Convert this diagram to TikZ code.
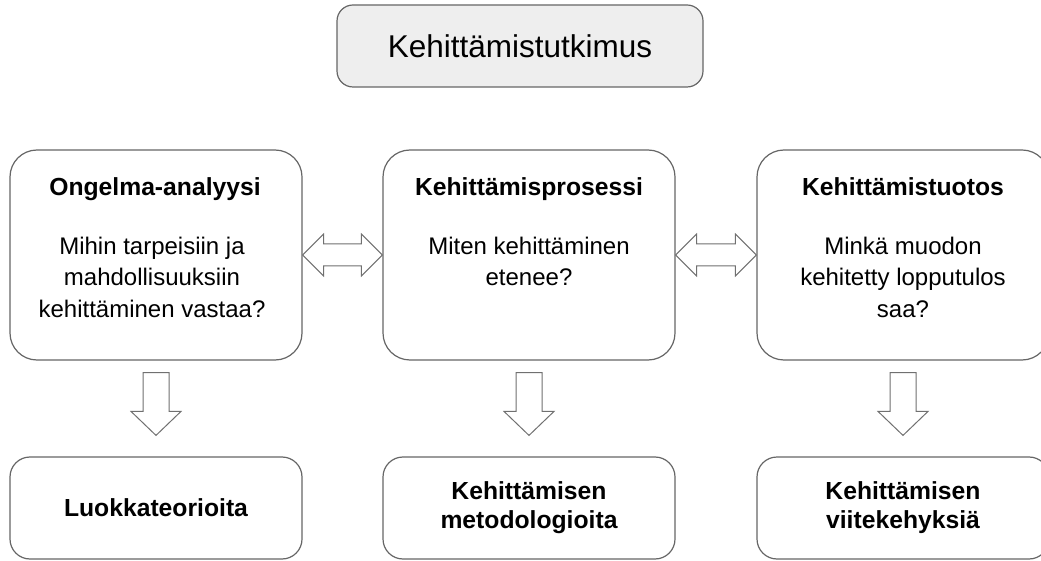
\documentclass[tikz,border=0pt]{standalone}
\usepackage{fontspec}
\setmainfont{Liberation Sans}
\usetikzlibrary{calc}
\definecolor{edge}{HTML}{666666}
\definecolor{arrowedge}{HTML}{707070}
\definecolor{headfill}{HTML}{EEEEEE}
\tikzset{
  topbox/.style={draw=edge, line width=1.2pt, fill=headfill, rounded corners=16pt,
    minimum width=366pt, minimum height=82pt, inner sep=0pt,
    font=\fontsize{31.5}{36}\selectfont},
  rowbox/.style={draw=edge, line width=1.2pt, rounded corners=27pt,
    minimum width=292pt, minimum height=210pt, inner sep=0pt},
  outbox/.style={draw=edge, line width=1.2pt, rounded corners=20pt,
    minimum width=292pt, minimum height=102pt, inner sep=0pt, align=center,
    font=\fontsize{24.7}{29}\selectfont\bfseries},
  boxtitle/.style={anchor=base, inner sep=0pt, font=\fontsize{24.7}{29}\selectfont\bfseries},
  % anchored at the baseline of the last line
  boxbody/.style={anchor=base, inner sep=0pt, align=center, font=\fontsize{24}{31.5}\selectfont},
  blockarrow/.style={draw=arrowedge, line width=1pt, fill=white, line join=miter}
}
% hollow double-headed block arrow between two side-by-side boxes
\newcommand\twowayblock[2]{%
  \draw[blockarrow] let \p1=(#1.east), \p2=(#2.west) in
    (\x1,\y1) -- (\x1+21pt,\y1+21pt) -- (\x1+21pt,\y1+11pt) -- (\x2-21pt,\y1+11pt)
    -- (\x2-21pt,\y1+21pt) -- (\x2,\y1) -- (\x2-21pt,\y1-21pt) -- (\x2-21pt,\y1-11pt)
    -- (\x1+21pt,\y1-11pt) -- (\x1+21pt,\y1-21pt) -- cycle;}
% hollow downward block arrow from a box to the box below it
\newcommand\downblock[2]{%
  \draw[blockarrow] let \p1=($(#1.south)+(0,-12)$), \p2=($(#2.north)+(0,21)$) in
    (\x1-13pt,\y1) -- (\x1+13pt,\y1) -- (\x1+13pt,\y2+24pt) -- (\x1+25pt,\y2+24pt)
    -- (\x1,\y2) -- (\x1-25pt,\y2+24pt) -- (\x1-13pt,\y2+24pt) -- cycle;}

\begin{document}
\begin{tikzpicture}[x=1pt,y=1pt]
\useasboundingbox (0,0) rectangle (1041,560);

% heading
\node[topbox] (head) at (520,514) {Kehittämistutkimus};

% middle row
\node[rowbox] (ana) at (156,305) {};
\node[rowbox] (proc) at (529,305) {};
\node[rowbox] (prod) at (903,305) {};

\node[boxtitle] (anaT) at ($(ana.north)+(-1,-46)$) {Ongelma-analyysi};
\node[boxbody] (anaB) at ($(ana.north)+(-4,-168)$)
  {Mihin tarpeisiin ja\\mahdollisuuksiin\\kehittäminen vastaa?};
\node[boxtitle] (procT) at ($(proc.north)+(0,-46)$) {Kehittämisprosessi};
\node[boxbody] (procB) at ($(proc.north)+(0,-136.5)$)
  {Miten kehittäminen\\etenee?};
\node[boxtitle] (prodT) at ($(prod.north)+(0,-46)$) {Kehittämistuotos};
\node[boxbody] (prodB) at ($(prod.north)+(0,-168)$)
  {Minkä muodon\\kehitetty lopputulos\\saa?};

% bottom row
\node[outbox] (theo) at (156,52) {Luokkateorioita};
\node[outbox] (meth) at (529,52) {Kehittämisen\\metodologioita};
\node[outbox] (frame) at (903,52) {Kehittämisen\\viitekehyksiä};

% connectors
\twowayblock{ana}{proc}
\twowayblock{proc}{prod}
\downblock{ana}{theo}
\downblock{proc}{meth}
\downblock{prod}{frame}
\end{tikzpicture}
\end{document}
